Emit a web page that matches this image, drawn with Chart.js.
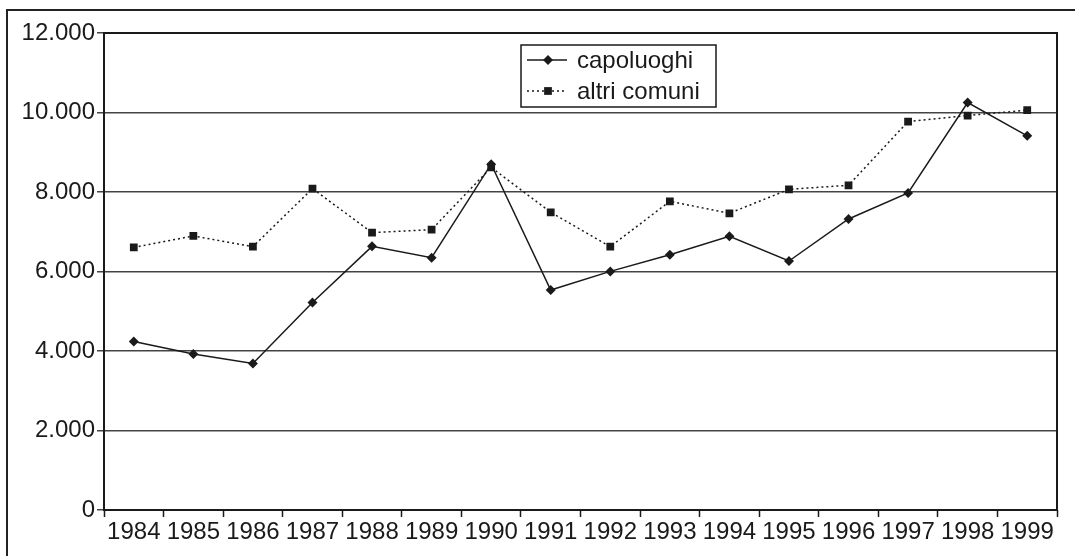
<!DOCTYPE html>
<html lang="it">
<head>
    <meta charset="UTF-8">
    <title>capoluoghi / altri comuni</title>
    <script src="https://cdn.jsdelivr.net/npm/chart.js@4"></script>
    <style>
        body {
            margin: 0;
            background: #fff;
            overflow: hidden;
        }
        #frame {
            position: absolute;
            left: 6px;
            top: 9px;
            width: 1200px;
            height: 700px;
            border: 2px solid #222;
        }
        #chartContainer {
            position: absolute;
            left: 0;
            top: 0;
            width: 1075px;
            height: 556px;
        }
    </style>
</head>
<body>
    <div id="frame"></div>
    <div id="chartContainer">
        <canvas id="chart" width="1075" height="556"></canvas>
    </div>

    <script>
        // Data
        const years = ['1984', '1985', '1986', '1987', '1988', '1989', '1990', '1991',
                       '1992', '1993', '1994', '1995', '1996', '1997', '1998', '1999'];
        const capoluoghi = [4239, 3922, 3686, 5222, 6633, 6348, 8700, 5534,
                            6003, 6423, 6885, 6264, 7322, 7977, 10252, 9413];
        const altriComuni = [6607, 6894, 6625, 8086, 6977, 7053, 8620, 7489,
                             6625, 7766, 7464, 8068, 8169, 9773, 9924, 10058];
        const seriesNames = ['capoluoghi', 'altri comuni'];

        const fontFamily = '"Liberation Sans", Arial, Helvetica, sans-serif';
        const ink = '#1a1a1a';

        // 12000 -> "12.000"
        function formatThousands(v) {
            return String(v).replace(/\B(?=(\d{3})+(?!\d))/g, '.');
        }

        // box around the plot area
        const plotBorder = {
            id: 'plotBorder',
            afterDraw(chart) {
                const a = chart.chartArea;
                const ctx = chart.ctx;
                ctx.save();
                ctx.strokeStyle = ink;
                ctx.lineWidth = 2;
                ctx.strokeRect(a.left, a.top, a.right - a.left, a.bottom - a.top);
                ctx.restore();
            }
        };

        // legend box inside the plot, as in the original
        const boxLegend = {
            id: 'boxLegend',
            afterDraw(chart) {
                const ctx = chart.ctx;
                const x = 521, y = 45, w = 195, h = 62;
                ctx.save();
                ctx.fillStyle = '#fff';
                ctx.fillRect(x, y, w, h);
                ctx.strokeStyle = ink;
                ctx.lineWidth = 1.5;
                ctx.strokeRect(x, y, w, h);

                chart.data.datasets.forEach(function(ds, i) {
                    const cy = y + 15 + i * 31;
                    ctx.strokeStyle = ds.borderColor;
                    ctx.lineWidth = ds.borderWidth;
                    ctx.setLineDash(ds.borderDash || []);
                    ctx.beginPath();
                    ctx.moveTo(x + 6, cy);
                    ctx.lineTo(x + 46, cy);
                    ctx.stroke();
                    ctx.setLineDash([]);
                    ctx.fillStyle = ds.pointBackgroundColor;
                    Chart.helpers.drawPoint(ctx, {
                        pointStyle: ds.pointStyle,
                        radius: ds.pointRadius,
                        rotation: 0,
                        borderWidth: 0
                    }, x + 27, cy);
                    ctx.fillStyle = ink;
                    ctx.font = '24px ' + fontFamily;
                    ctx.textBaseline = 'middle';
                    ctx.fillText(ds.label, x + 56, cy + 1);
                });
                ctx.restore();
            }
        };

        const ctx = document.getElementById('chart').getContext('2d');
        new Chart(ctx, {
            type: 'line',
            data: {
                labels: years,
                datasets: [{
                    label: seriesNames[0],
                    data: capoluoghi,
                    borderColor: ink,
                    borderWidth: 1.5,
                    pointStyle: 'rectRot',
                    pointRadius: 5,
                    pointBackgroundColor: ink,
                    pointBorderWidth: 0,
                    tension: 0
                }, {
                    label: seriesNames[1],
                    data: altriComuni,
                    borderColor: ink,
                    borderWidth: 1.5,
                    borderDash: [2, 3],
                    pointStyle: 'rect',
                    pointRadius: 5.5,
                    pointBackgroundColor: ink,
                    pointBorderWidth: 0,
                    tension: 0
                }]
            },
            options: {
                responsive: false,
                animation: false,
                layout: {
                    padding: { left: 0, top: 33, right: 18, bottom: 0 }
                },
                plugins: {
                    legend: { display: false },
                    tooltip: { enabled: false }
                },
                scales: {
                    x: {
                        offset: true,
                        grid: {
                            offset: true,
                            drawOnChartArea: false,
                            color: ink,
                            tickLength: 7,
                            tickWidth: 1.5
                        },
                        border: { display: false },
                        ticks: {
                            color: ink,
                            padding: 1,
                            maxRotation: 0,
                            autoSkip: false,
                            font: { family: fontFamily, size: 24 }
                        },
                        afterFit: function(scale) { scale.height = 46; }
                    },
                    y: {
                        min: 0,
                        max: 12000,
                        grid: {
                            color: '#444',
                            lineWidth: 1.5,
                            tickLength: 7
                        },
                        border: { display: false },
                        ticks: {
                            stepSize: 2000,
                            color: ink,
                            padding: 2,
                            font: { family: fontFamily, size: 24 },
                            callback: function(v) { return formatThousands(v); }
                        },
                        afterFit: function(scale) { scale.width = 104; }
                    }
                }
            },
            plugins: [plotBorder, boxLegend]
        });
    </script>
</body>
</html>
